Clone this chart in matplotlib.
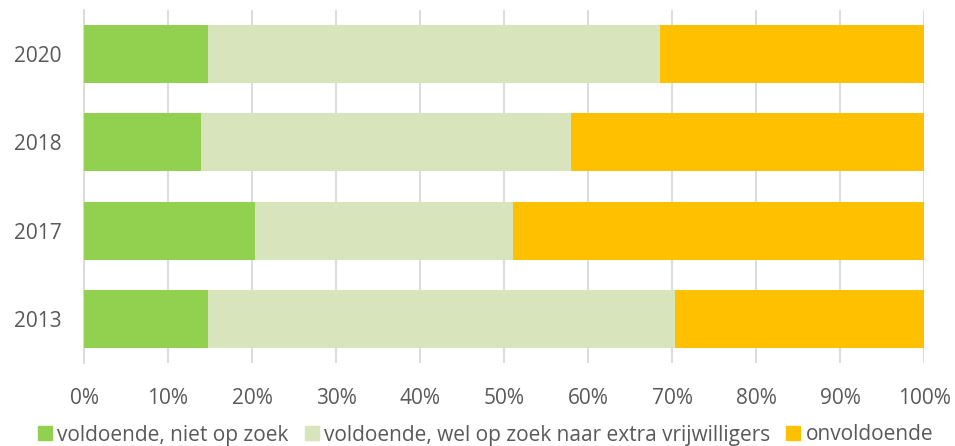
import matplotlib.pyplot as plt
from matplotlib.lines import Line2D

years = ["2013", "2017", "2018", "2020"]
niet_op_zoek = [14.8, 20.3, 13.9, 14.8]
wel_op_zoek = [55.5, 30.7, 44.1, 53.8]
onvoldoende = [29.7, 49.0, 42.0, 31.4]

labels = ["voldoende, niet op zoek",
          "voldoende, wel op zoek naar extra vrijwilligers",
          "onvoldoende"]
colors = ["#92D050", "#D8E4BC", "#FFC000"]

plt.rcParams["font.family"] = ["Open Sans", "DejaVu Sans"]

fig = plt.figure(figsize=(9.55, 4.46), dpi=100)
ax = fig.add_axes([84 / 955, 1 - 363 / 446, 840.3 / 955, 353 / 446])

left = [0.0] * len(years)
for vals, col in zip([niet_op_zoek, wel_op_zoek, onvoldoende], colors):
    ax.barh(years, vals, left=left, height=0.66, color=col, zorder=3)
    left = [l + v for l, v in zip(left, vals)]

ax.set_xlim(0, 100)
ax.set_ylim(-0.5, 3.5)
ax.set_xticks(range(0, 101, 10))
ax.set_xticklabels([f"{t}%" for t in range(0, 101, 10)])
ax.xaxis.grid(True, color="#D9D9D9", lw=1.3, zorder=0)
ax.set_axisbelow(True)

for s in ["top", "right", "bottom"]:
    ax.spines[s].set_visible(False)
ax.spines["left"].set_color("#D9D9D9")
ax.spines["left"].set_linewidth(1.3)

ax.tick_params(axis="both", length=0, labelsize=15, labelcolor="#595959")
ax.tick_params(axis="x", pad=18)
ax.tick_params(axis="y", pad=16)

handles = [Line2D([], [], marker="s", ls="none", markersize=10,
                  markerfacecolor=c, markeredgecolor=c) for c in colors]
fig.legend(handles, labels, loc="center", bbox_to_anchor=(486 / 955, 1 - 435 / 446),
           ncol=3, frameon=False, fontsize=15, labelcolor="#595959",
           handlelength=0.6, handletextpad=0.3, columnspacing=0.8,
           borderaxespad=0)

fig.savefig("out.png", dpi=100)
